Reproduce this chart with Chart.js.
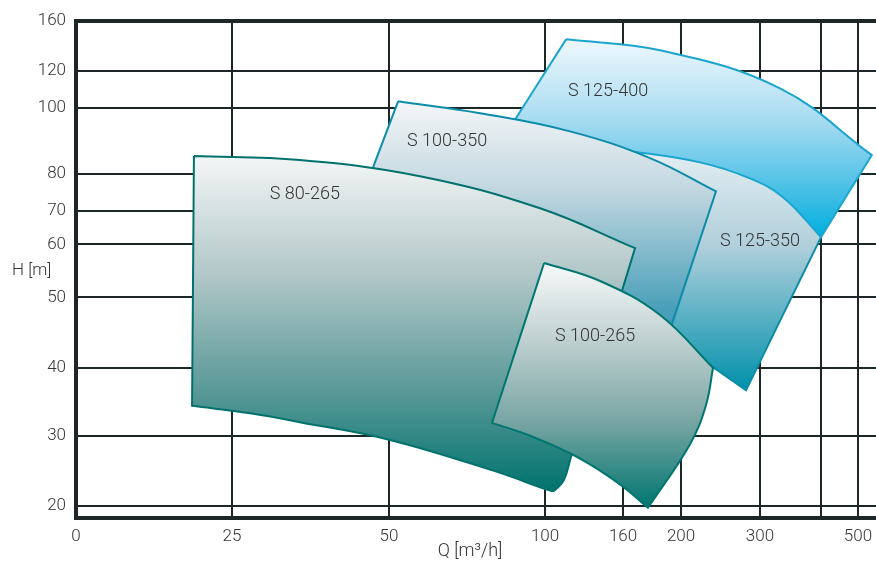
<!DOCTYPE html>
<html>
<head>
<meta charset="utf-8">
<script src="https://cdn.jsdelivr.net/npm/chart.js@4.4.1/dist/chart.umd.min.js"></script>
<style>
  html, body { margin: 0; padding: 0; background: #fff; }
  #wrap { width: 876px; height: 561px; }
</style>
</head>
<body>
<div id="wrap"><canvas id="chart" width="876" height="561"></canvas></div>
<script>
// axis ticks
var qTicks = [0, 25, 50, 100, 160, 200, 300, 400, 500];
var hTicks = [20, 30, 40, 50, 60, 70, 80, 100, 120, 160];

// pump areas, outline (Q in m3/h, H in m)
// *Corners = indexes of the sharp corners of each outline
var s100_265Q = [99.7, 142.3, 185.5, 240.5, 231.6, 211.4, 177.2, 160.0, 140.8, 119.2, 95.2, 83.0];
var s100_265H = [56.5, 53.1, 47.5, 40.0, 34.5, 28.8, 19.7, 22.7, 25.2, 27.5, 30.0, 31.9];
var s100_265Corners = [0, 3, 6, 11];

var s80_265Q = [18.9, 35.8, 59.9, 98.4, 168.3, 120.0, 114.6, 108.5, 105.4, 85.6, 50.3, 35.8, 27.9, 18.6];
var s80_265H = [85.4, 84.2, 79.4, 70.7, 59.3, 27.0, 23.7, 22.4, 22.1, 24.7, 29.4, 32.0, 33.3, 34.4];
var s80_265Corners = [0, 4, 13];

var s100_350Q = [52.9, 79.2, 119.2, 178.6, 244.3, 185.5, 111.5, 69.6, 43.8];
var s100_350H = [103.6, 98.4, 92.9, 84.8, 75.3, 41.1, 49.6, 57.0, 64.9];
var s100_350Corners = [0, 4, 5, 8];

var s125_400Q = [116.2, 185.5, 332.8, 537.8, 400.0, 337.7, 287.3, 224.1, 164.8, 87.2];
var s125_400H = [145.4, 136.7, 110.7, 85.7, 62.2, 73.7, 78.8, 83.5, 86.9, 91.7];
var s125_400Corners = [0, 3, 4, 9];

var s125_350Q = [98.4, 185.5, 249.4, 287.3, 337.7, 400.0, 282.3, 240.5, 171.7, 111.5];
var s125_350H = [93.9, 87.8, 83.5, 80.2, 75.0, 62.2, 36.7, 40.1, 47.3, 56.7];
var s125_350Corners = [0, 5, 6, 9];

// labels inside the areas
var pumpNames = ['S 125-400', 'S 100-350', 'S 80-265', 'S 125-350', 'S 100-265'];
var labelQ = [148.5, 68.6, 36.6, 300, 138.5];
var labelH = [109.1, 89.9, 74.5, 61.0, 44.4];

// scale whose ticks sit at fixed fractions of the axis (the printed chart is not log)
class PiecewiseScale extends Chart.LinearScale {
  determineDataLimits() {
    var v = this.options.stopValues;
    this.min = v[0];
    this.max = v[v.length - 1];
  }
  buildTicks() {
    return this.options.tickValues.map(function(v) { return { value: v }; });
  }
  getPixelForValue(value) {
    var v = this.options.stopValues, p = this.options.stopPos;
    var t = p[0];
    if (value >= v[v.length - 1]) {
      t = p[p.length - 1];
    } else if (value > v[0]) {
      for (var i = 1; i < v.length; i++) {
        if (value <= v[i]) {
          t = p[i - 1] + (value - v[i - 1]) / (v[i] - v[i - 1]) * (p[i] - p[i - 1]);
          break;
        }
      }
    }
    return this.getPixelForDecimal(t);
  }
  getValueForPixel(pixel) {
    var v = this.options.stopValues, p = this.options.stopPos;
    var t = this.getDecimalForPixel(pixel);
    for (var i = 1; i < p.length; i++) {
      if (t <= p[i]) return v[i - 1] + (t - p[i - 1]) / (p[i] - p[i - 1]) * (v[i] - v[i - 1]);
    }
    return v[v.length - 1];
  }
}
PiecewiseScale.id = 'piecewise';
PiecewiseScale.defaults = Chart.LinearScale.defaults;
Chart.register(PiecewiseScale);

var FONT = "Roboto, 'Liberation Sans', Arial, sans-serif";
var TEXT = '#333333';
var GRID = '#1d2727';

// corner points are doubled so the spline keeps them sharp
function points(qs, hs, corners) {
  var pts = [];
  qs.forEach(function(q, i) {
    pts.push({ x: q, y: hs[i] });
    if (i > 0 && corners.indexOf(i) >= 0) pts.push({ x: q, y: hs[i] });
  });
  pts.push({ x: qs[0], y: hs[0] }); // close the outline
  return pts;
}

function gradientFill(hs, stops) {
  return function(ctx) {
    var chart = ctx.chart;
    if (!chart.chartArea) return stops[0][1];
    var y = chart.scales.y;
    var top = y.getPixelForValue(Math.max.apply(null, hs));
    var bottom = y.getPixelForValue(Math.min.apply(null, hs));
    var g = chart.ctx.createLinearGradient(0, top, 0, bottom);
    stops.forEach(function(s) { g.addColorStop(s[0], s[1]); });
    return g;
  };
}

function area(label, qs, hs, corners, stroke, stops) {
  return {
    label: label,
    data: points(qs, hs, corners),
    showLine: true,
    fill: 'shape',
    tension: 0.4,
    pointRadius: 0,
    borderWidth: 2,
    borderColor: stroke,
    borderJoinStyle: 'miter',
    backgroundColor: gradientFill(hs, stops)
  };
}

// first dataset is drawn on top
var datasets = [
  area('S 100-265', s100_265Q, s100_265H, s100_265Corners, '#007670',
    [[0, '#f8fafa'], [0.3, '#c2d2d2'], [0.65, '#78a5a3'], [1, '#00756f']]),
  area('S 80-265', s80_265Q, s80_265H, s80_265Corners, '#00716d',
    [[0, '#f4f6f6'], [0.35, '#b2c7c8'], [0.7, '#5a9998'], [1, '#00736e']]),
  area('S 100-350', s100_350Q, s100_350H, s100_350Corners, '#0b8ca9',
    [[0, '#f4f6f8'], [0.35, '#c0d6df'], [0.8, '#4aa0b9'], [1, '#2b94b0']]),
  area('S 125-400', s125_400Q, s125_400H, s125_400Corners, '#1aa5cf',
    [[0, '#eef8fd'], [0.4, '#a9dcf1'], [0.75, '#4cc0e6'], [1, '#00afdf']]),
  area('S 125-350', s125_350Q, s125_350H, s125_350Corners, '#0a8ca8',
    [[0, '#f0f5f7'], [0.45, '#b0cfdb'], [1, '#0090ab']])
];

var textPlugin = {
  id: 'texts',
  afterDatasetsDraw: function(chart) {
    var c = chart.ctx, x = chart.scales.x, y = chart.scales.y;
    c.save();
    c.fillStyle = TEXT;
    c.font = '300 18px ' + FONT;
    c.textAlign = 'center';
    c.textBaseline = 'middle';
    for (var i = 0; i < pumpNames.length; i++) {
      c.fillText(pumpNames[i], x.getPixelForValue(labelQ[i]), y.getPixelForValue(labelH[i]));
    }
    c.restore();
  },
  afterDraw: function(chart) {
    var c = chart.ctx;
    c.save();
    c.fillStyle = TEXT;
    c.font = '300 17px ' + FONT;
    c.textBaseline = 'middle';
    c.textAlign = 'left';
    c.fillText('H [m]', 12, 271);
    c.font = '300 18px ' + FONT;
    c.textAlign = 'center';
    c.fillText('Q [m\u00b3/h]', 470, 551);
    c.restore();
  }
};

new Chart(document.getElementById('chart'), {
  type: 'scatter',
  data: { datasets: datasets },
  plugins: [textPlugin],
  options: {
    responsive: false,
    animation: false,
    layout: { padding: { top: 21, right: 0, bottom: 0, left: 0 } },
    plugins: {
      legend: { display: false },
      tooltip: { enabled: false },
      filler: { propagate: false, drawTime: 'beforeDatasetDraw' }
    },
    scales: {
      x: {
        type: 'piecewise',
        stopValues: [0, 25, 50, 100, 160, 200, 300, 400, 500, 549],
        stopPos: [0, 0.195, 0.3913, 0.5863, 0.6838, 0.7563, 0.855, 0.9313, 0.9775, 1],
        tickValues: qTicks,
        afterFit: function(scale) {
          scale.height = 43;
          scale.paddingLeft = 0;
          scale.paddingRight = 0;
        },
        grid: { color: GRID, lineWidth: 2, drawTicks: false },
        border: { display: true, color: GRID, width: 4 },
        ticks: {
          autoSkip: false,
          maxRotation: 0,
          padding: 9,
          color: TEXT,
          font: { family: FONT, size: 17, weight: '300' },
          callback: function(v) { return v === 400 ? '' : String(v); }
        }
      },
      y: {
        type: 'piecewise',
        stopValues: [18.2, 20, 30, 40, 50, 60, 70, 80, 100, 120, 160],
        stopPos: [0, 0.0247, 0.1655, 0.3022, 0.4438, 0.5504, 0.6179, 0.6923, 0.8251, 0.8989, 1],
        tickValues: hTicks,
        afterFit: function(scale) { scale.width = 76; },
        grid: {
          color: GRID,
          drawTicks: false,
          lineWidth: function(ctx) { return ctx.tick && ctx.tick.value === 160 ? 4 : 2; }
        },
        border: { display: true, color: GRID, width: 4 },
        ticks: {
          autoSkip: false,
          padding: 10,
          color: TEXT,
          font: { family: FONT, size: 17, weight: '300' },
          callback: function(v) { return String(v); }
        }
      }
    }
  }
});
</script>
</body>
</html>
